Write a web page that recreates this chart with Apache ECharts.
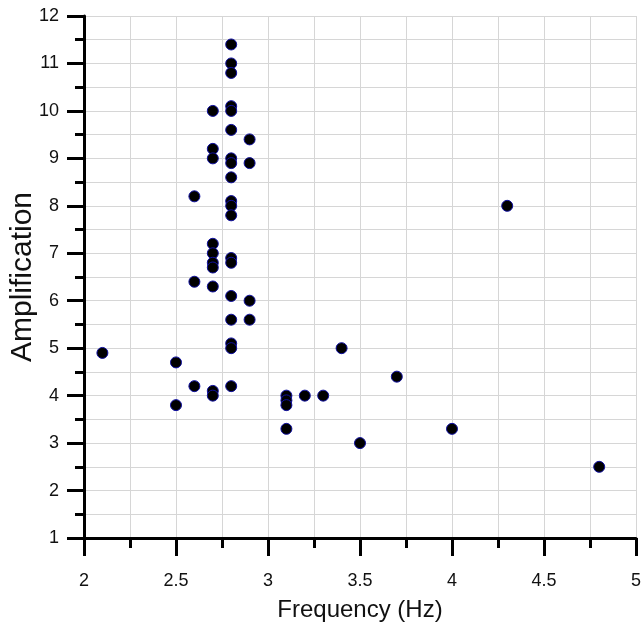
<!DOCTYPE html>
<html>
<head>
<meta charset="utf-8">
<script src="https://cdn.jsdelivr.net/npm/echarts@6/dist/echarts.min.js"></script>
<style>
html,body{margin:0;padding:0;background:#fff;}
#chart{width:643px;height:628px;}
</style>
</head>
<body>
<div id="chart"></div>
<script>
// Frequency (Hz) and Amplification values
const frequency = [2.1, 2.5, 2.5, 2.6, 2.6, 2.6,
  2.7, 2.7, 2.7, 2.7, 2.7, 2.7, 2.7, 2.7, 2.7, 2.7,
  2.8, 2.8, 2.8, 2.8, 2.8, 2.8, 2.8, 2.8, 2.8, 2.8, 2.8, 2.8, 2.8, 2.8, 2.8, 2.8, 2.8, 2.8, 2.8,
  2.9, 2.9, 2.9, 2.9,
  3.1, 3.1, 3.1, 3.1, 3.2, 3.3, 3.4, 3.5, 3.7, 4.0, 4.3, 4.8];
const amplification = [4.9, 4.7, 3.8, 8.2, 6.4, 4.2,
  10.0, 9.2, 9.0, 7.2, 7.0, 6.8, 6.7, 6.3, 4.1, 4.0,
  11.4, 11.0, 10.8, 10.1, 10.0, 9.6, 9.0, 8.9, 8.6, 8.1, 8.0, 7.8, 6.9, 6.8, 6.1, 5.6, 5.1, 5.0, 4.2,
  9.4, 8.9, 6.0, 5.6,
  4.0, 3.9, 3.8, 3.3, 4.0, 4.0, 5.0, 3.0, 4.4, 3.3, 8.0, 2.5];
const xTicks = [2, 2.5, 3, 3.5, 4, 4.5, 5];
const yTicks = [1, 2, 3, 4, 5, 6, 7, 8, 9, 10, 11, 12];

const points = frequency.map((f, i) => [f, amplification[i]]);
const font = '"Liberation Sans", Arial, sans-serif';
const gridColor = '#d6d6d6';

const chart = echarts.init(document.getElementById('chart'), null, {renderer: 'canvas'});
chart.setOption({
  animation: false,
  backgroundColor: '#fff',
  grid: {left: 84, right: 7, top: 16, bottom: 90, containLabel: false, outerBoundsMode: 'none'},
  xAxis: {
    type: 'value',
    min: xTicks[0], max: xTicks[xTicks.length - 1], interval: 0.5,
    name: 'Frequency (Hz)', nameLocation: 'middle', nameGap: 60, nameMoveOverlap: false,
    nameTextStyle: {fontFamily: font, fontSize: 24, color: '#111'},
    axisLine: {show: true, lineStyle: {color: '#000', width: 3}},
    axisTick: {show: true, inside: false, length: 18, lineStyle: {color: '#000', width: 3}},
    minorTick: {show: true, splitNumber: 2, length: 10, lineStyle: {color: '#000', width: 3}},
    splitLine: {show: true, lineStyle: {color: gridColor, width: 1}},
    minorSplitLine: {show: true, lineStyle: {color: gridColor, width: 1}},
    axisLabel: {fontFamily: font, fontSize: 18, color: '#111', margin: 34,
      formatter: v => String(v)}
  },
  yAxis: {
    type: 'value',
    min: yTicks[0], max: yTicks[yTicks.length - 1], interval: 1,
    name: 'Amplification', nameLocation: 'middle', nameGap: 46, nameMoveOverlap: false,
    nameTextStyle: {fontFamily: font, fontSize: 30, color: '#111'},
    axisLine: {show: true, lineStyle: {color: '#000', width: 3}},
    axisTick: {show: true, inside: false, length: 17, lineStyle: {color: '#000', width: 3}},
    minorTick: {show: true, splitNumber: 2, length: 9, lineStyle: {color: '#000', width: 3}},
    splitLine: {show: true, lineStyle: {color: gridColor, width: 1}},
    minorSplitLine: {show: true, lineStyle: {color: gridColor, width: 1}},
    axisLabel: {fontFamily: font, fontSize: 18, color: '#111', margin: 25}
  },
  series: [{
    type: 'scatter',
    data: points,
    symbol: 'circle',
    symbolSize: 11,
    itemStyle: {color: '#000', borderColor: '#1010a0', borderWidth: 1, opacity: 1}
  }]
});
</script>
</body>
</html>
